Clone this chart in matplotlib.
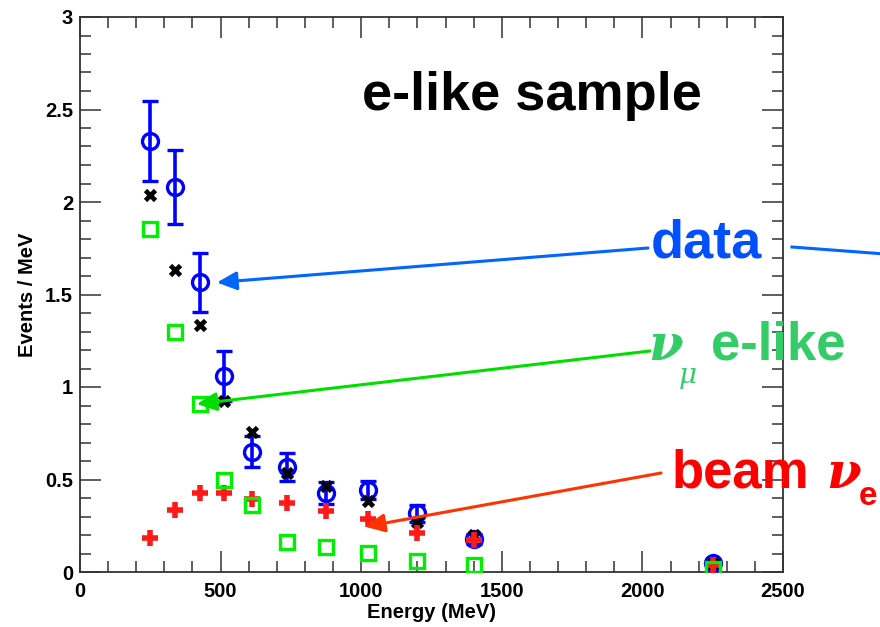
import matplotlib
matplotlib.use("Agg")
import matplotlib.pyplot as plt
from matplotlib.ticker import MultipleLocator
from matplotlib.lines import Line2D

# Reconstructed-energy bin centres (MeV)
energy = [250, 337.5, 425, 512.5, 612.5, 737.5, 875, 1025, 1200, 1400, 2250]

# Observed events per MeV with statistical errors
data = [2.33, 2.08, 1.565, 1.058, 0.65, 0.566, 0.425, 0.443, 0.317, 0.178, 0.05]
data_err = [0.215, 0.20, 0.157, 0.135, 0.085, 0.075, 0.06, 0.05, 0.045, 0.025, 0.012]

# Predicted total background
total_bkg = [2.04, 1.63, 1.335, 0.926, 0.758, 0.537, 0.465, 0.385, 0.272, 0.20, 0.05]

# nu_mu induced e-like background
numu_elike = [1.855, 1.295, 0.908, 0.50, 0.362, 0.164, 0.137, 0.104, 0.061, 0.038, 0.015]

# intrinsic beam nu_e background
beam_nue = [0.186, 0.335, 0.425, 0.425, 0.393, 0.375, 0.33, 0.285, 0.209, 0.175, 0.04]

W, H = 880, 627
fig = plt.figure(figsize=(W / 100, H / 100), dpi=100)
ax = fig.add_axes([80 / W, 1 - 572 / H, (783 - 80) / W, (572 - 17) / H])

FONT = "Liberation Sans"
GREEK = dict(family="DejaVu Serif", style="italic", weight="bold")

def px(x, y):
    """Pixel position (from top-left) to figure fraction."""
    return x / W, 1 - y / H

ax.errorbar(energy, data, yerr=data_err, fmt="o", color="#0000ff",
            mfc="none", ms=11.5, mew=2.4, elinewidth=2.6, capsize=5.5,
            capthick=2.6, zorder=3)
ax.plot(energy, total_bkg, "x", color="black", ms=7.5, mew=3.4, zorder=4)
ax.plot(energy, beam_nue, "+", color="#ff1a1a", ms=11, mew=4, zorder=5)
ax.plot(energy, numu_elike, "s", color="#00ee00", mfc="none", ms=9.5,
        mew=2.4, zorder=6)

ax.set_xlim(0, 2500)
ax.set_ylim(0, 3)
ax.xaxis.set_major_locator(MultipleLocator(500))
ax.xaxis.set_minor_locator(MultipleLocator(100))
ax.yaxis.set_major_locator(MultipleLocator(0.5))
ax.yaxis.set_minor_locator(MultipleLocator(0.1))
ax.set_yticks([0, 0.5, 1, 1.5, 2, 2.5, 3])
ax.set_yticklabels(["0", "0.5", "1", "1.5", "2", "2.5", "3"])

ax.tick_params(which="both", direction="in", top=True, right=True,
               color="#333333", width=1.1)
ax.tick_params(which="major", length=15)
ax.tick_params(which="minor", length=8)
ax.tick_params(axis="x", which="major", pad=7)
ax.tick_params(axis="y", which="major", pad=5)
for lab in ax.get_xticklabels() + ax.get_yticklabels():
    lab.set_fontfamily(FONT)
    lab.set_fontweight("bold")
    lab.set_fontsize(14.5)
for sp in ax.spines.values():
    sp.set_color("#333333")
    sp.set_linewidth(1.3)

ax.set_xlabel("Energy (MeV)", family=FONT, weight="bold", fontsize=14.5,
              labelpad=2)
ax.set_ylabel("Events / MeV", family=FONT, weight="bold", fontsize=14.5,
              labelpad=6)

# Title inside the frame
fig.text(*px(362, 110), "e-like sample", family=FONT, weight="bold",
         fontsize=39, color="black", ha="left", va="baseline")

# Annotation labels
blue_txt = "#0050ff"
green_txt = "#33cc66"
red_txt = "#ff0000"
fig.text(*px(651, 257), "data", family=FONT, weight="bold", fontsize=39,
         color=blue_txt, ha="left", va="baseline", zorder=10)

fig.text(*px(648, 360), "ν", fontsize=36, color=green_txt,
         ha="left", va="baseline", zorder=10, **GREEK)
fig.text(*px(679, 383), "μ", fontsize=20, color=green_txt,
         ha="left", va="baseline", zorder=10, family="DejaVu Serif",
         style="italic")
fig.text(*px(711, 360), "e-like", family=FONT, weight="bold", fontsize=38,
         color=green_txt, ha="left", va="baseline", zorder=10)

fig.text(*px(672, 488), "beam", family=FONT, weight="bold", fontsize=38,
         color=red_txt, ha="left", va="baseline", zorder=10)
fig.text(*px(826, 488), "ν", fontsize=36, color=red_txt,
         ha="left", va="baseline", zorder=10, **GREEK)
fig.text(*px(859, 505), "e", family=FONT, weight="bold", fontsize=24,
         color=red_txt, ha="left", va="baseline", zorder=10)

# Arrows from labels to the points they describe
head = "-|>,head_length=0.6,head_width=0.28"
ax.annotate("", xy=(487, data[2]), xycoords="data",
            xytext=px(648, 248), textcoords="figure fraction",
            arrowprops=dict(arrowstyle=head, color="#0066ff", lw=2.2,
                            mutation_scale=20, shrinkA=0, shrinkB=0),
            annotation_clip=False, zorder=9)
ax.annotate("", xy=(415, numu_elike[2]), xycoords="data",
            xytext=px(650, 351), textcoords="figure fraction",
            arrowprops=dict(arrowstyle=head, color="#00dd00", lw=2.2,
                            mutation_scale=20, shrinkA=0, shrinkB=0),
            annotation_clip=False, zorder=9)
ax.annotate("", xy=(1013, 0.245), xycoords="data",
            xytext=px(661, 473), textcoords="figure fraction",
            arrowprops=dict(arrowstyle=head, color="#ff3300", lw=2.2,
                            mutation_scale=20, shrinkA=0, shrinkB=0),
            annotation_clip=False, zorder=9)

# Leader line continuing to the right of the "data" label
x0, y0 = px(792, 247)
x1, y1 = px(885, 254)
fig.add_artist(Line2D([x0, x1], [y0, y1], transform=fig.transFigure,
                      color="#0066ff", lw=2.2))

fig.savefig("out.png", dpi=100)
